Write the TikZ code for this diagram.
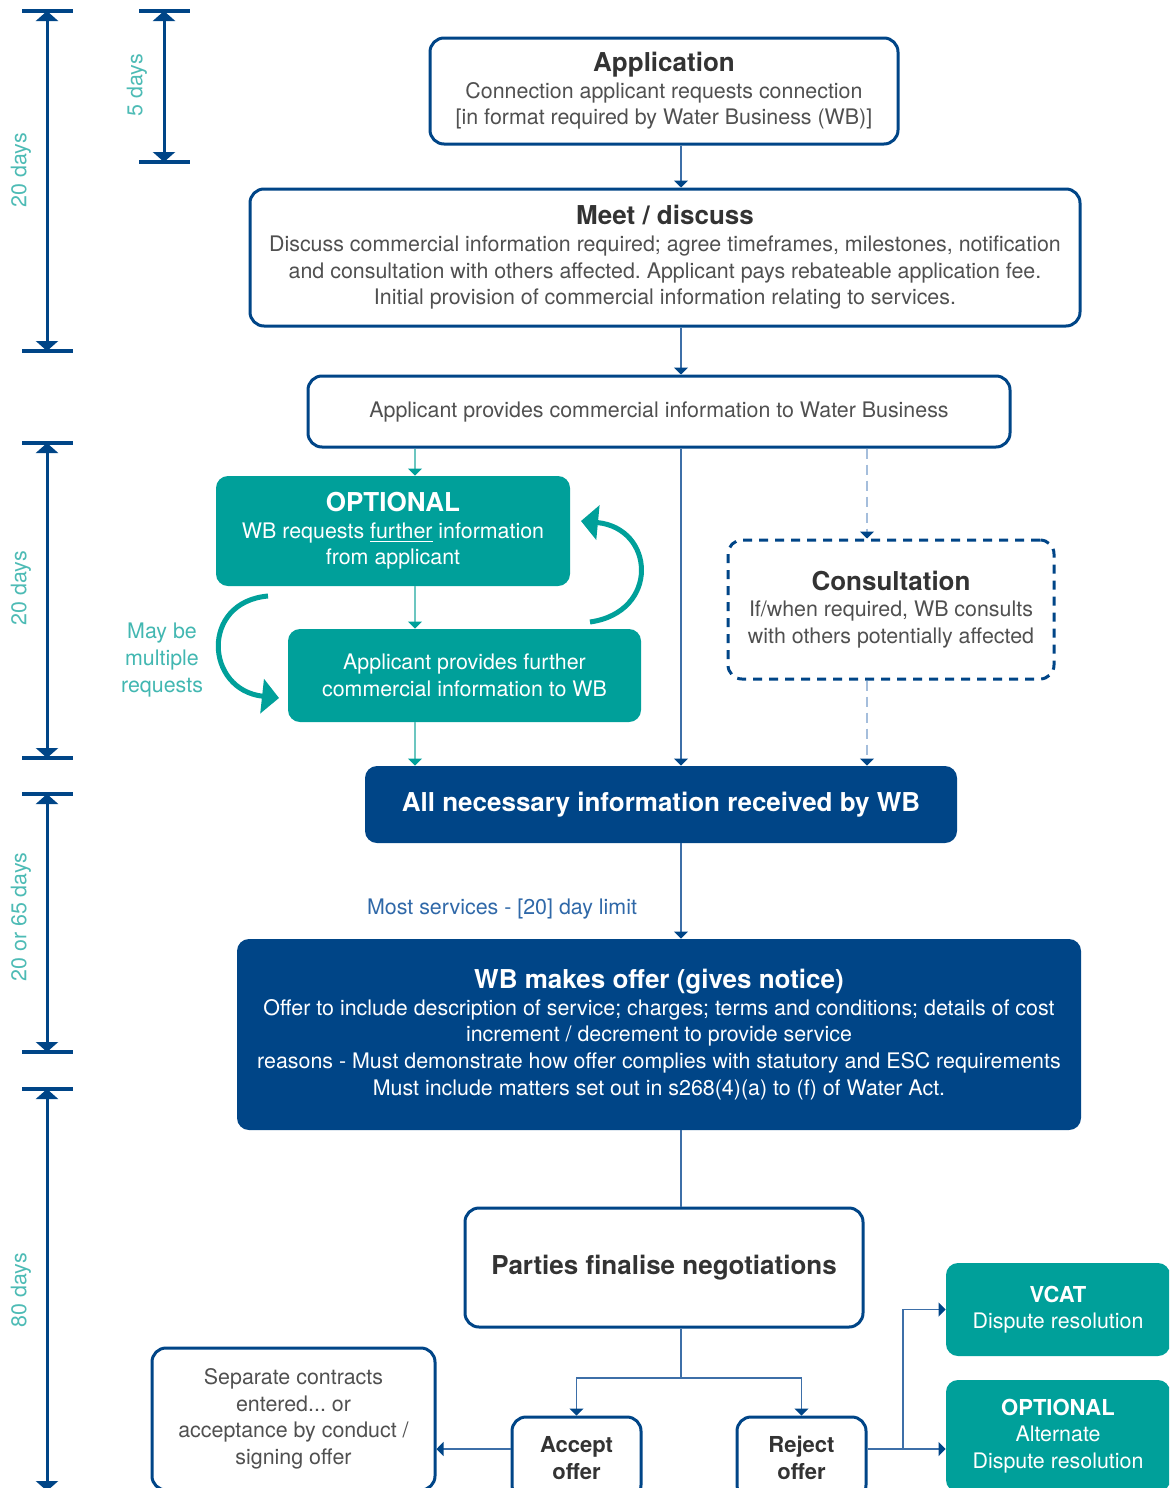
\documentclass[tikz,border=0pt]{standalone}
\usepackage{fontspec}
\setmainfont{TeX Gyre Heros}
\usetikzlibrary{arrows.meta}
\definecolor{wbnavy}{HTML}{004587}
\definecolor{wbteal}{HTML}{00A09A}
\definecolor{wbtext}{HTML}{505050}
\definecolor{wbhead}{HTML}{333333}
\definecolor{wbline}{HTML}{3D6FA8}
\definecolor{wbtealline}{HTML}{6CC6C0}
\definecolor{wbdash}{HTML}{A5BEDC}
\definecolor{wblabel}{HTML}{4DBBB5}
\definecolor{wbnote}{HTML}{2F68A8}
\newcommand{\hd}[1]{{\fontsize{13}{13.3}\selectfont\bfseries #1}}
\newcommand{\hds}[1]{{\fontsize{11}{13.3}\selectfont\bfseries #1}}
\frenchspacing

\tikzset{
  body/.style={font=\fontsize{10.7}{13.3}\selectfont},
  box/.style={draw=wbnavy, line width=1.5pt, rounded corners=7pt, fill=white,
    text=wbtext, body, align=center, inner sep=2pt},
  dashbox/.style={box, dash pattern=on 4.5pt off 3.5pt},
  tealbox/.style={fill=wbteal, rounded corners=6pt, text=white, body,
    align=center, inner sep=2pt},
  navybox/.style={fill=wbnavy, rounded corners=6pt, text=white, body,
    align=center, inner sep=2pt},
  link/.style={draw=wbline, line width=0.6pt,
    -{Triangle[width=7pt,length=3.5pt,color=wbnavy]}},
  plain/.style={draw=wbline, line width=0.6pt},
  tlink/.style={draw=wbtealline, line width=0.6pt,
    -{Triangle[width=7pt,length=3.5pt,color=wbteal]}},
  dlink/.style={draw=wbdash, line width=0.6pt, dash pattern=on 5pt off 3pt,
    -{Triangle[width=7pt,length=3.5pt,color=wbnavy]}},
  reqloop/.style={draw=wbteal, line width=2.5pt,
    -{Triangle[width=17pt,length=8.5pt]}},
  span/.style={draw=wbnavy, line width=1.5pt,
    {Triangle[width=11pt,length=5pt]}-{Triangle[width=11pt,length=5pt]}},
  tick/.style={draw=wbnavy, line width=2pt},
  days/.style={rotate=90, text=wblabel, body}
}

\begin{document}
\begin{tikzpicture}[x=0.5pt, y=-0.5pt]
  \useasboundingbox (0,0) rectangle (1169,1488);
  \clip (0,0) rectangle (1169,1488);

  % time spans on the left
  \foreach \bx/\ya/\yb in {47/11/351, 164/11/162, 47/443/758, 47/794/1052, 47/1089/1491}{
    \draw[span] (\bx,\ya) -- (\bx,\yb);
    \draw[tick] (\bx-25,\ya) -- (\bx+26,\ya);
    \draw[tick] (\bx-25,\yb) -- (\bx+26,\yb);
  }
  \node[days] (d1) at (21,170) {20 days};
  \node[days] (d2) at (137,85) {5 days};
  \node[days] (d3) at (21,588) {20 days};
  \node[days] (d4) at (21,917) {20 or 65 days};
  \node[days] (d5) at (21,1290) {80 days};

  % boxes
  \node[box, minimum width=234pt, minimum height=53pt] (app) at (664,91)
    {\textcolor{wbhead}{\hd{Application}}\\Connection applicant requests connection\\{}[in format required by Water Business (WB)]};
  \node[box, minimum width=415pt, minimum height=68.5pt] (meet) at (665,257.5)
    {\textcolor{wbhead}{\hd{Meet / discuss}}\\Discuss commercial information required; agree timeframes, milestones, notification\\and consultation with others affected. Applicant pays rebateable application fee.\\Initial provision of commercial information relating to services.};
  \node[box, minimum width=351pt, minimum height=35.5pt] (prov) at (659,411.5)
    {Applicant provides commercial information to Water Business};
  \node[tealbox, minimum width=177pt, minimum height=55pt] (opt) at (393,531)
    {\hd{OPTIONAL}\\WB requests \underline{further} information\\from applicant};
  \node[tealbox, minimum width=176.5pt, minimum height=46.5pt] (furth) at (464.5,675.5)
    {Applicant provides further\\commercial information to WB};
  \node[dashbox, minimum width=163pt, minimum height=69.5pt] (cons) at (891,609.5)
    {\textcolor{wbhead}{\hd{Consultation}}\\If/when required, WB consults\\with others potentially affected};
  \node[navybox, minimum width=296pt, minimum height=38.5pt] (allinfo) at (661,804.5)
    {\hd{All necessary information received by WB}};
  \node[navybox, minimum width=422pt, minimum height=95.5pt] (offer) at (659,1034.5)
    {\hd{WB makes offer (gives notice)}\\Offer to include description of service; charges; terms and conditions; details of cost\\increment / decrement to provide service\\reasons - Must demonstrate how offer complies with statutory and ESC requirements\\Must include matters set out in s268(4)(a) to (f) of Water Act.};
  \node[box, minimum width=199pt, minimum height=59.5pt] (parties) at (664,1267.5)
    {\textcolor{wbhead}{\hd{Parties finalise negotiations}}};
  \node[box, minimum width=141.5pt, minimum height=71pt] (sep) at (293.5,1419)
    {Separate contracts\\entered... or\\acceptance by conduct /\\signing offer};
  \node[box, minimum width=64.5pt, minimum height=41pt] (accept) at (576.5,1458)
    {\textcolor{wbhead}{\hds{Accept}}\\\textcolor{wbhead}{\hds{offer}}};
  \node[box, minimum width=64.5pt, minimum height=41pt] (reject) at (801.5,1458)
    {\textcolor{wbhead}{\hds{Reject}}\\\textcolor{wbhead}{\hds{offer}}};
  \node[tealbox, minimum width=112pt, minimum height=46.5pt] (vcat) at (1058,1309.5)
    {\hds{VCAT}\\Dispute resolution};
  \node[tealbox, minimum width=112pt, minimum height=56pt] (altdr) at (1058,1436)
    {\hds{OPTIONAL}\\Alternate\\Dispute resolution};

  % notes
  \node[body, text=wbnote] (most) at (502,909) {Most services - [20] day limit};
  \node[body, text=wblabel!85!wbteal, align=center] (many) at (162,660)
    {May be\\multiple\\requests};

  % connectors
  \coordinate (spine) at (681,0);
  \coordinate (tealx) at (415,0);
  \coordinate (dashx) at (867,0);
  \coordinate (forkx) at (903,0);
  \draw[link] (app.south -| spine) -- (meet.north -| spine);
  \draw[link] (meet.south -| spine) -- (prov.north -| spine);
  \draw[link] (prov.south -| spine) -- (allinfo.north -| spine);
  \draw[link] (allinfo.south -| spine) -- (offer.north -| spine);
  \draw[plain] (offer.south -| spine) -- (parties.north -| spine);
  \draw[tlink] (prov.south -| tealx) -- (opt.north -| tealx);
  \draw[tlink] (opt.south -| tealx) -- (furth.north -| tealx);
  \draw[tlink] (furth.south -| tealx) -- (allinfo.north -| tealx);
  \draw[dlink] (prov.south -| dashx) -- (cons.north -| dashx);
  \draw[dlink] (cons.south -| dashx) -- (allinfo.north -| dashx);

  \coordinate (split) at (681,1378);
  \draw[plain] (parties.south -| spine) -- (split);
  \draw[link] (split) -| (accept.north);
  \draw[link] (split) -| (reject.north);
  \draw[link] ([yshift=4.5pt]accept.west) -- ([yshift=4.5pt]accept.west -| sep.east);
  \draw[link] ([yshift=4.5pt]reject.east) -- ([yshift=4.5pt]reject.east -| altdr.west);
  \draw[link] ([yshift=4.5pt]reject.east -| forkx) |- (vcat.west);

  % request loops
  \coordinate (loopRa) at (590,622);
  \coordinate (loopRb) at (581,521);
  \coordinate (loopLa) at (268,596);
  \coordinate (loopLb) at (279,698);
  \draw[reqloop] (loopRa) .. controls (660,612) and (655,528) .. (loopRb);
  \draw[reqloop] (loopLa) .. controls (200,602) and (205,690) .. (loopLb);
\end{tikzpicture}
\end{document}
